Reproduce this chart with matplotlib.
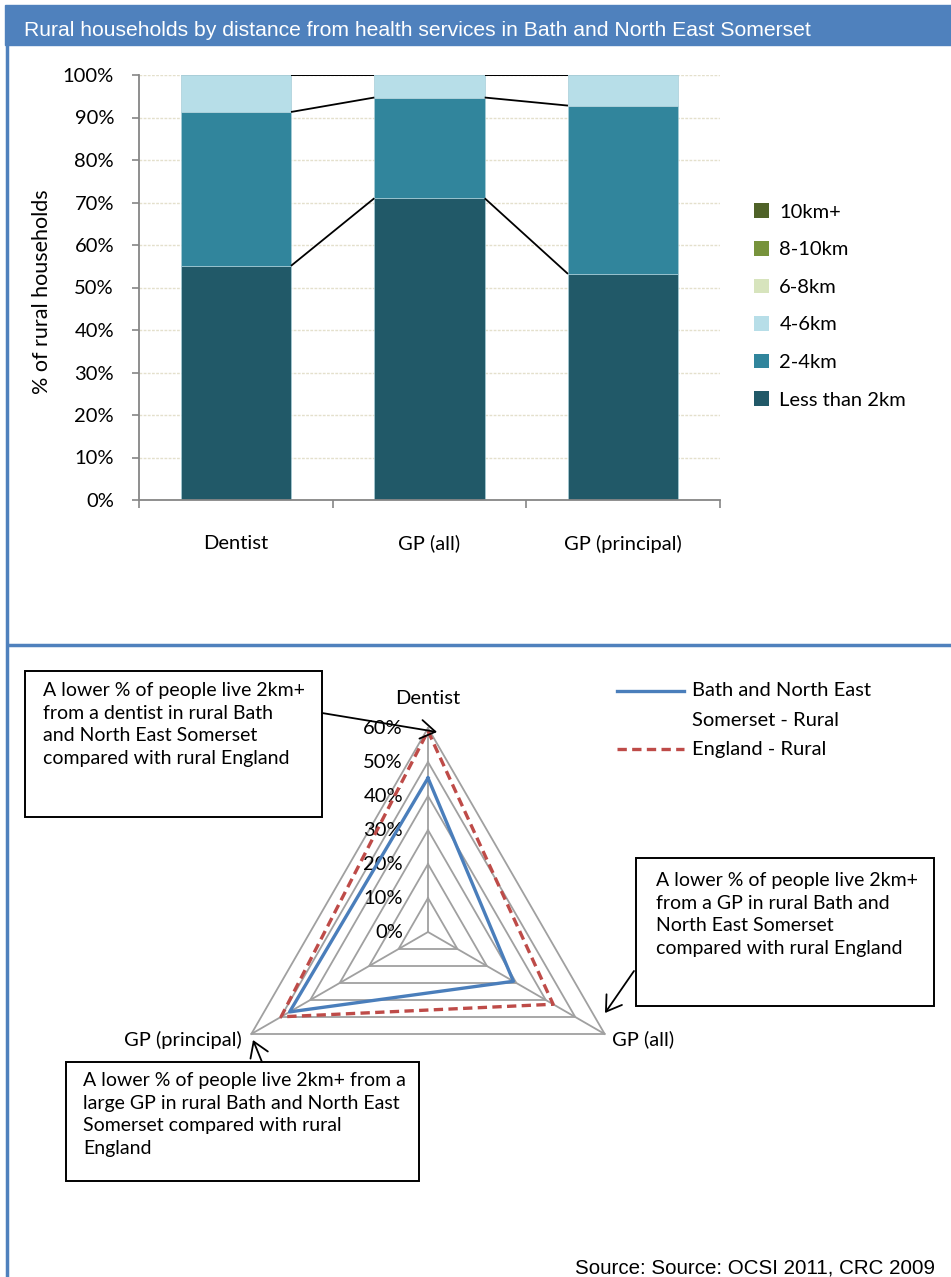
import numpy as np
import matplotlib.pyplot as plt
from matplotlib.patches import Patch, Rectangle, FancyArrowPatch

plt.rcParams['font.family'] = ['Lato', 'DejaVu Sans']

# stacked bar data (% of rural households)
services = ['Dentist', 'GP (all)', 'GP (principal)']
bands = ['Less than 2km', '2-4km', '4-6km', '6-8km', '8-10km', '10km+']
band_colours = ['#215968', '#31859C', '#B7DEE8', '#D7E4BD', '#77933C', '#4F6228']
less_than_2km = [55.1, 71.0, 53.2]
km_2_4 = [36.2, 23.7, 39.6]
km_4_6 = [8.7, 5.3, 7.2]
km_6_8 = [0.0, 0.0, 0.0]
km_8_10 = [0.0, 0.0, 0.0]
km_10_plus = [0.0, 0.0, 0.0]

# radar data (% living 2km+ away)
radar_labels = ['Dentist', 'GP (all)', 'GP (principal)']
banes_rural = [45.3, 29.0, 47.0]
england_rural = [59.1, 42.5, 49.9]

W, H = 951, 1277
fig = plt.figure(figsize=(W / 100, H / 100), dpi=100)
FS = 14


def px_box(left, top, right, bottom):
    return [left / W, 1 - bottom / H, (right - left) / W, (bottom - top) / H]


# ---- stacked bars ----
ax = fig.add_axes(px_box(139, 75, 720, 500))
x = np.arange(len(services))
bw = 0.57
bottom = np.zeros(len(services))
tops = []
for vals, col, lab in zip([less_than_2km, km_2_4, km_4_6, km_6_8, km_8_10, km_10_plus],
                          band_colours, bands):
    vals = np.array(vals)
    ax.bar(x, vals, bw, bottom=bottom, color=col, edgecolor='#A9CED8',
           linewidth=0.5, label=lab, zorder=2)
    bottom = bottom + vals
    tops.append(bottom.copy())

# series lines joining the segment tops
for top in tops:
    for i in range(len(services) - 1):
        ax.plot([x[i] + bw / 2, x[i + 1] - bw / 2], [top[i], top[i + 1]],
                color='black', lw=1.3, zorder=3, solid_capstyle='butt')

ax.set_xlim(-0.5, 2.5)
ax.set_ylim(0, 100)
ax.set_yticks(np.arange(0, 101, 10))
ax.set_yticklabels([f'{v}%' for v in range(0, 101, 10)], fontsize=14.5)
ax.yaxis.grid(True, color='#E4E0CC', ls=(0, (2, 1)), lw=1)
ax.set_axisbelow(True)
ax.set_xticks(x)
ax.set_xticklabels(services, fontsize=14.5)
ax.set_xticks([-0.5, 0.5, 1.5, 2.5], minor=True)
ax.tick_params(axis='x', which='major', length=0, pad=25)
ax.tick_params(axis='x', which='minor', length=6, color='#868686', width=1.2)
ax.tick_params(axis='y', length=5, color='#868686', width=1.2, pad=13)
for s in ['top', 'right']:
    ax.spines[s].set_visible(False)
for s in ['left', 'bottom']:
    ax.spines[s].set_color('#868686')
    ax.spines[s].set_linewidth(1.3)
ax.set_ylabel('% of rural households', fontsize=15.5)
ax.yaxis.set_label_coords((52 - 139) / 581, 0.49)

ax.legend([Patch(facecolor=c) for c in band_colours[::-1]], bands[::-1],
          loc='center left', bbox_to_anchor=(736 / W, 1 - 306 / H),
          bbox_transform=fig.transFigure, frameon=False, fontsize=14.5,
          handlelength=0.75, handleheight=0.75, handletextpad=0.5, labelspacing=1.0)

# ---- radar ----
cx, cy, rad = 428, 932, 204
rax = fig.add_axes(px_box(cx - rad, cy - rad, cx + rad, cy + rad), projection='polar')
rax.set_theta_offset(np.pi / 2)
rax.set_theta_direction(-1)
theta = np.arange(3) * 2 * np.pi / 3
closed = np.append(theta, theta[0])
rax.set_ylim(0, 60)
rax.grid(False)
rax.set_xticks([])
rax.set_yticks([])
rax.spines['polar'].set_visible(False)
rax.patch.set_visible(False)
for r in range(10, 61, 10):
    rax.plot(closed, [r] * 4, color='#A0A0A0', lw=1.3, clip_on=False, zorder=1)
for t in theta:
    rax.plot([t, t], [0, 60], color='#A0A0A0', lw=1.3, clip_on=False, zorder=1)
for r in range(0, 61, 10):
    rax.annotate(f'{r}%', xy=(0, r), xytext=(-18, 0), textcoords='offset points',
                 ha='right', va='center', fontsize=14.5, zorder=2)

rax.plot(closed, banes_rural + banes_rural[:1], color='#4A7EBB', lw=2.4,
         clip_on=False, zorder=4)
rax.plot(closed, england_rural + england_rural[:1], color='#BE4B48', lw=2.4,
         ls=(0, (2.8, 1.6)), clip_on=False, zorder=3)

rax.annotate(radar_labels[0], xy=(theta[0], 60), xytext=(0, 21), textcoords='offset points',
             ha='center', va='center', fontsize=14.5)
rax.annotate(radar_labels[1], xy=(theta[1], 60), xytext=(5, -4), textcoords='offset points',
             ha='left', va='center', fontsize=14.5)
rax.annotate(radar_labels[2], xy=(theta[2], 60), xytext=(-7, -4), textcoords='offset points',
             ha='right', va='center', fontsize=14.5)

# ---- page furniture drawn in pixel coordinates ----
ov = fig.add_axes([0, 0, 1, 1])
ov.set_xlim(0, W)
ov.set_ylim(H, 0)
ov.axis('off')
ov.patch.set_visible(False)

ov.add_patch(Rectangle((5, 5), W - 5, 40, color='#4F81BD', zorder=1))
ov.text(24, 31, 'Rural households by distance from health services in Bath and North East Somerset',
        color='white', fontsize=15.2, family='Liberation Sans', va='center', ha='left')
ov.plot([7, 7], [5, H], color='#4F81BD', lw=2.5, solid_capstyle='butt')
ov.plot([7, W], [645, 645], color='#4F81BD', lw=2.5, solid_capstyle='butt')

# radar legend
ov.plot([617, 684], [691, 691], color='#4A7EBB', lw=2.4)
ov.plot([617, 684], [749, 749], color='#BE4B48', lw=2.4, ls=(0, (2.8, 1.6)))
ov.text(692, 691, 'Bath and North East', fontsize=14.5, va='center')
ov.text(692, 720, 'Somerset - Rural', fontsize=14.5, va='center')
ov.text(692, 749, 'England - Rural', fontsize=14.5, va='center')

callouts = [
    ((25, 671, 322, 817), (43, 682),
     'A lower % of people live 2km+\nfrom a dentist in rural Bath\nand North East Somerset\ncompared with rural England',
     (322, 713), (437, 732)),
    ((636, 858, 934, 1006), (656, 872),
     'A lower % of people live 2km+\nfrom a GP in rural Bath and\nNorth East Somerset\ncompared with rural England',
     (634, 971), (605, 1013)),
    ((66, 1062, 419, 1181), (83, 1072),
     'A lower % of people live 2km+ from a\nlarge GP in rural Bath and North East\nSomerset compared with rural\nEngland',
     (262, 1062), (253, 1040)),
]
for (l, t, r, b), (tx, ty), txt, start, end in callouts:
    ov.add_patch(Rectangle((l, t), r - l, b - t, facecolor='white', edgecolor='black',
                           lw=1.4, zorder=5))
    ov.text(tx, ty, txt, fontsize=FS, va='top', ha='left', linespacing=1.4, zorder=6)
    ov.add_patch(FancyArrowPatch(start, end, arrowstyle='->,head_length=0.7,head_width=0.45',
                                 mutation_scale=15, color='black', lw=1.3, zorder=6,
                                 shrinkA=0, shrinkB=0))

ov.text(575, 1268, 'Source: Source: OCSI 2011, CRC 2009', fontsize=14.8,
        family='Liberation Sans', va='center', ha='left')

fig.savefig('out.png', dpi=100)
